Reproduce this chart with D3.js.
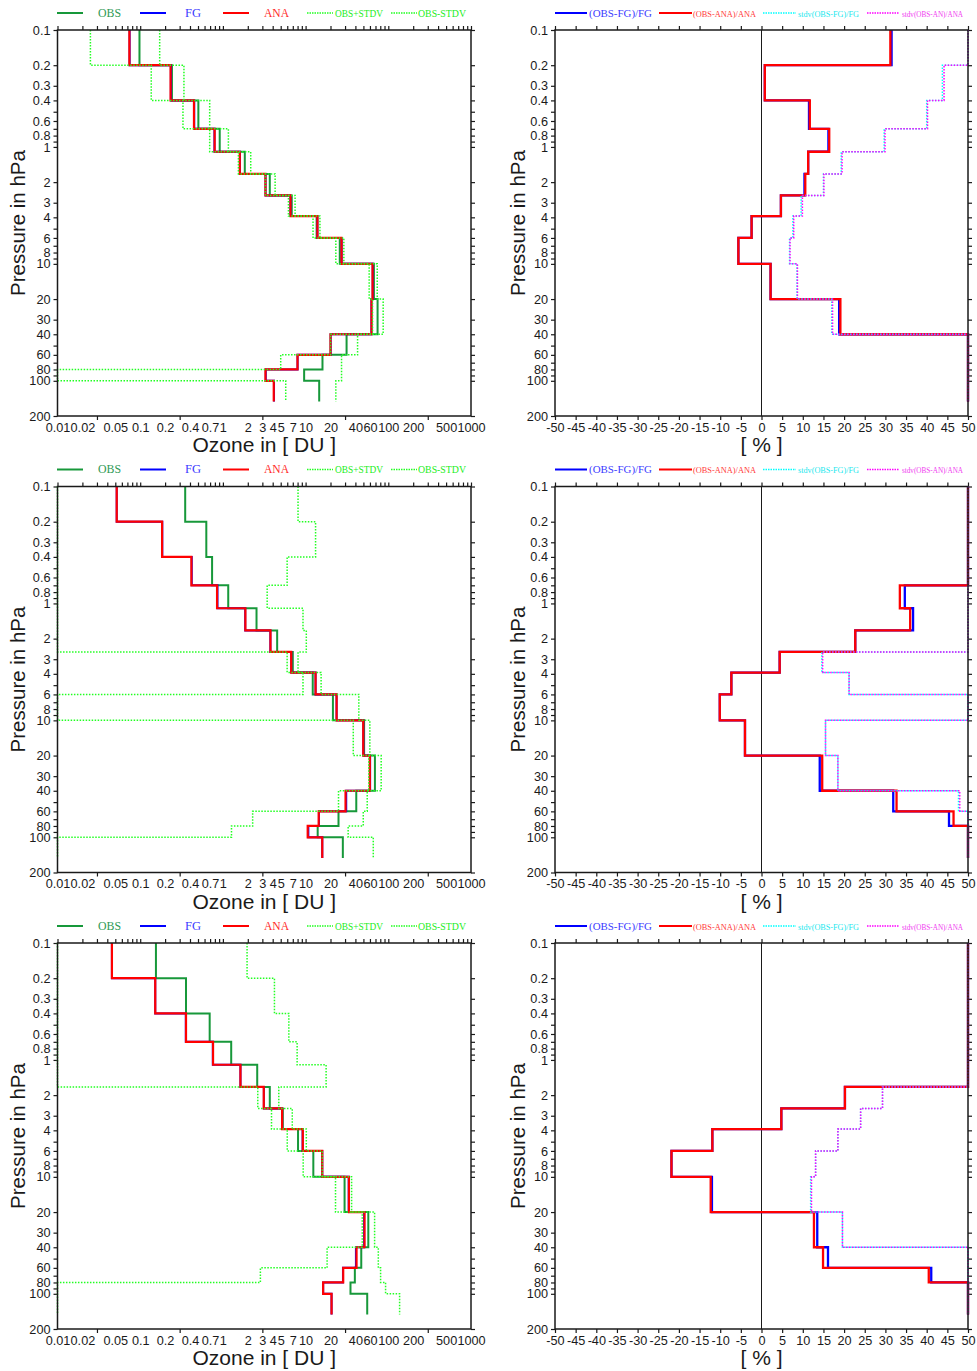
<!DOCTYPE html>
<html>
<head>
<meta charset="utf-8">
<script src="https://cdn.jsdelivr.net/npm/d3@7"></script>
<style>
body { margin: 0; background: #fff; }
svg text { font-family: "Liberation Sans", Arial, sans-serif; fill: #1a1a1a; }
svg .leg { font-family: "Liberation Serif", "Times New Roman", serif; }
</style>
</head>
<body>
<script>
// layer boundaries (hPa), shared by all profiles
const levels = [0.1, 0.2, 0.4, 0.7, 1.1, 1.7, 2.6, 3.9, 6, 10, 20, 40, 60, 80, 100, 150];

// ---- row 1 : ozone per layer [DU]
const obs1   = [0.098, 0.242, 0.505, 0.915, 1.84, 3.69, 6.8, 13.6, 25.9, 67, 74.2, 31.3, 16, 9.6, 14.6];
const fg1    = [0.0745, 0.235, 0.45, 0.79, 1.61, 3.28, 6.55, 13.9, 27.3, 64.8, 62.5, 20.1, 8.0, 3.3, 4.15];
const ana1   = [0.074, 0.233, 0.447, 0.795, 1.6, 3.27, 6.56, 13.9, 27.2, 64.5, 62.7, 20, 7.98, 3.27, 4.12];
const plus1  = [0.172, 0.338, 0.692, 1.165, 2.17, 4.28, 7.46, 14.9, 29, 73.5, 86.7, 42.5, 27.2, 27.2, 23.2];
const minus1 = [0.025, 0.136, 0.329, 0.692, 1.54, 3.27, 6.2, 12.3, 23.2, 58.7, 64.5, 20, 5.0, -8, 5.75];
// row 1 : relative departures [%]
const dfg1   = [31.5, 0.8, 11.5, 16.2, 11.3, 10.4, 4.7, -2.4, -5.6, 2.2, 18.8, 55, 99, 190, 250];
const dana1  = [31.2, 0.8, 11.7, 16.4, 11.3, 10.6, 4.7, -2.4, -5.6, 2.2, 19.1, 56, 100, 194, 254];
const sfg1   = [99, 43.8, 40, 29.7, 19.3, 15, 9.6, 7.6, 6.8, 8.6, 17.0, 56, 140, 540, 211];
const sana1  = [100, 44.2, 40.2, 29.9, 19.5, 15.1, 9.9, 7.8, 6.9, 8.7, 17.2, 56, 140, 540, 211];

// ---- row 2
const obs2   = [0.35, 0.63, 0.74, 1.16, 2.55, 4.53, 7.0, 12.2, 21.4, 51, 68.9, 41, 25, 14, 28.2];
const fg2    = [0.052, 0.185, 0.42, 0.86, 1.86, 3.75, 6.7, 13.2, 23.7, 49.9, 60.3, 31.0, 14.5, 10.8, 15.9];
const ana2   = [0.052, 0.184, 0.416, 0.85, 1.87, 3.76, 6.7, 13.2, 23.7, 49.8, 59.8, 30.4, 14.4, 10.6, 15.9];
const plus2  = [8.1, 13.2, 5.98, 3.43, 9.3, 10.2, 8.1, 15.4, 44, 59.8, 82, 55.6, 49.8, 32.7, 65.8];
const minus2 = [-7.4, -11.9, -4.5, -1.1, -4.2, -1.1, 5.98, 9.3, -1.2, 37.7, 58, 25, 2.29, 1.27, -9.4];
const dfg2   = [570, 240, 76, 34.7, 36.7, 22.7, 4.4, -7.3, -10.1, -4.0, 14.1, 31.9, 45.4, 60, 75];
const dana2  = [570, 240, 78, 33.5, 36.0, 22.7, 4.4, -7.3, -10.1, -4.0, 14.7, 32.7, 46.5, 60, 75];
const sfg2   = [1500, 700, 300, 150, 190, 140, 14.6, 21.2, 90, 15.5, 18.5, 47.7, 110, 160, 250];
const sana2  = [1500, 700, 300, 150, 190, 140, 14.8, 21.2, 90, 15.5, 18.5, 48, 110, 160, 250];

// ---- row 3
const obs3   = [0.155, 0.358, 0.692, 1.26, 2.6, 3.69, 5.3, 8.1, 12.4, 29.6, 57.3, 47.1, 39.4, 34.9, 55.6];
const fg3    = [0.0455, 0.152, 0.356, 0.755, 1.63, 3.13, 5.2, 9.2, 15.9, 33.2, 51.0, 40.6, 28.3, 16.3, 20.6];
const ana3   = [0.0455, 0.152, 0.358, 0.76, 1.63, 3.12, 5.2, 9.25, 15.9, 33.4, 51.6, 41.3, 28.5, 16.3, 20.6];
const plus3  = [1.96, 4.2, 6.27, 7.9, 17.7, 4.74, 6.9, 10.2, 15.9, 36, 68.3, 75.7, 80.7, 92.7, 137];
const minus3 = [-1.65, -3.5, -4.9, -5.4, -12.5, 2.64, 3.87, 6.0, 9.35, 23, 48.4, 18.2, 2.84, -23, -26];
const dfg3   = [240, 135, 93, 66, 60, 20.2, 4.8, -11.9, -21.8, -12.0, 13.5, 16.1, 41.1, 114, 170];
const dana3  = [240, 135, 93, 66, 60, 20.2, 4.8, -11.9, -21.8, -12.3, 12.7, 14.9, 40.5, 114, 170];
const sfg3   = [400, 300, 200, 120, 150, 29.3, 24.0, 18.5, 13.1, 11.9, 19.6, 80, 120, 300, 250];
const sana3  = [400, 300, 200, 120, 150, 29.3, 24.0, 18.5, 13.1, 12.1, 19.6, 80, 120, 300, 250];

// ---- axis ticks
const yTicks  = [0.1,0.2,0.3,0.4,0.5,0.6,0.7,0.8,0.9,1,2,3,4,5,6,7,8,9,10,20,30,40,50,60,70,80,90,100,200];
const yLabels = ['0.1','0.2','0.3','0.4','','0.6','','0.8','','1','2','3','4','','6','','8','','10','20','30','40','','60','','80','','100','200'];
const ozTickVals = [0.01,0.02,0.05,0.1,0.2,0.4,0.7,1,2,3,4,5,7,10,20,40,60,100,200,500,1000];
const ozTickText = ['0.01','0.02','0.05','0.1','0.2','0.4','0.7','1','2','3','4','5','7','10','20','40','60','100','200','500','1000'];
const ozBottomMarks = [0.03, 0.3, 3, 30, 300];
const ozTopMarks = [0.01,0.02,0.03,0.04,0.05,0.06,0.07,0.08,0.09,
                    0.1,0.2,0.3,0.4,0.5,0.6,0.7,0.8,0.9,
                    1,2,3,4,5,6,7,8,9,10,20,30,40,50,60,70,80,90,
                    100,200,300,400,500,600,700,800,900,1000];
const pctTicks = [-50,-45,-40,-35,-30,-25,-20,-15,-10,-5,0,5,10,15,20,25,30,35,40,45,50];

const leftNames  = ['OBS', 'FG', 'ANA', 'OBS+STDV', 'OBS-STDV'];
const rightNames = ['(OBS-FG)/FG', '(OBS-ANA)/ANA', 'stdv(OBS-FG)/FG', 'stdv(OBS-AN)/ANA'];

const rows = [
  {obs: obs1, fg: fg1, ana: ana1, plus: plus1, minus: minus1, dfg: dfg1, dana: dana1, sfg: sfg1, sana: sana1},
  {obs: obs2, fg: fg2, ana: ana2, plus: plus2, minus: minus2, dfg: dfg2, dana: dana2, sfg: sfg2, sana: sana2},
  {obs: obs3, fg: fg3, ana: ana3, plus: plus3, minus: minus3, dfg: dfg3, dana: dana3, sfg: sfg3, sana: sana3}
];

const cObs = '#17983a', cFg = '#0000ff', cAna = '#ff0000', cStd = '#22ff22',
      cCyan = '#00ffff', cMag = '#ff00ff';

const svg = d3.select('body').append('svg')
    .attr('width', 977)
    .attr('height', 1371);

const plotH = 386;
const leftX = [57.5, 471], rightX = [555, 968];

// turn a per-layer list into a staircase of points
function steps(vals) {
  let pts = [];
  vals.forEach((v, i) => {
    pts.push([v, levels[i]]);
    pts.push([v, levels[i + 1]]);
  });
  return pts;
}

function styleAxis(g) {
  g.select('.domain').remove();
  g.selectAll('.tick line').attr('stroke', '#1a1a1a').attr('stroke-width', 1.2);
  g.selectAll('.tick text').attr('font-size', 12.7).attr('fill', '#222')
    .attr('font-family', '"Liberation Sans", Arial, sans-serif');
}

rows.forEach((r, i) => {
  const top = 30 + i * 456.5;
  const y = d3.scaleLog().domain([0.1, 200]).range([top, top + plotH]);
  const xl = d3.scaleLog().domain([0.01, 1000]).range(leftX).clamp(true);
  const xr = d3.scaleLinear().domain([-50, 50]).range(rightX).clamp(true);
  const pos = v => Math.max(v, 1e-5);

  // ---------- left panel : profiles ----------
  let L = svg.append('g');

  L.append('g').attr('transform', `translate(${leftX[0]},0)`)
    .call(d3.axisLeft(y).tickValues(yTicks).tickFormat((d, k) => yLabels[k]).tickSize(4).tickPadding(3))
    .call(styleAxis);
  L.append('g').attr('transform', `translate(${leftX[1]},0)`)
    .call(d3.axisRight(y).tickValues(yTicks).tickFormat('').tickSize(4))
    .call(styleAxis);
  L.append('g').attr('transform', `translate(0,${top})`)
    .call(d3.axisTop(xl).tickValues(ozTopMarks).tickFormat('').tickSize(4))
    .call(styleAxis);
  L.append('g').attr('transform', `translate(0,${top + plotH})`)
    .call(d3.axisBottom(xl).tickValues(ozBottomMarks).tickFormat('').tickSize(4))
    .call(styleAxis);
  L.append('g').attr('transform', `translate(0,${top + plotH})`)
    .call(d3.axisBottom(xl).tickValues(ozTickVals).tickFormat((d, k) => ozTickText[k]).tickSize(0).tickPadding(6.5))
    .call(styleAxis);

  const lineL = d3.line().x(d => xl(pos(d[0]))).y(d => y(d[1]));
  const drawL = (vals, color, w, dash) => {
    L.append('path').attr('d', lineL(steps(vals)))
      .attr('fill', 'none').attr('stroke', color).attr('stroke-width', w)
      .attr('stroke-dasharray', dash);
  };
  drawL(r.obs, cObs, 2, null);
  drawL(r.fg, cFg, 2, null);
  drawL(r.ana, cAna, 2.2, null);
  drawL(r.plus, cStd, 1.5, '1.5,1.5');
  drawL(r.minus, cStd, 1.5, '1.5,1.5');

  L.append('rect').attr('x', leftX[0]).attr('y', top)
    .attr('width', leftX[1] - leftX[0]).attr('height', plotH)
    .attr('fill', 'none').attr('stroke', '#1a1a1a').attr('stroke-width', 1.5);

  L.append('text').attr('transform', `translate(18,${top + plotH / 2}) rotate(-90)`)
    .attr('text-anchor', 'middle').attr('dy', '0.35em').attr('font-size', 20.5)
    .text('Pressure in hPa');
  L.append('text').attr('x', (leftX[0] + leftX[1]) / 2).attr('y', top + 422)
    .attr('text-anchor', 'middle').attr('font-size', 21)
    .text('Ozone in [ DU ]');

  // legend
  const legL = [
    {c: cObs, dash: null, x0: 57, x1: 83, tx: 98, tw: 23, fs: 12},
    {c: cFg, dash: null, x0: 140, x1: 166, tx: 185, tw: 16, fs: 12},
    {c: cAna, dash: null, x0: 223, x1: 249, tx: 264, tw: 25, fs: 12},
    {c: cStd, dash: '1.5,1', x0: 307, x1: 333, tx: 335, tw: 48, fs: 9.5},
    {c: cStd, dash: '1.5,1', x0: 391, x1: 417, tx: 418, tw: 48, fs: 9.5}
  ];
  legL.forEach((o, k) => {
    L.append('line').attr('x1', o.x0).attr('x2', o.x1).attr('y1', top - 17).attr('y2', top - 17)
      .attr('stroke', o.c).attr('stroke-width', o.dash ? 1.5 : 2).attr('stroke-dasharray', o.dash);
    L.append('text').attr('class', 'leg').attr('x', o.tx).attr('y', top - 13.5)
      .attr('font-size', o.fs).attr('textLength', o.tw).attr('lengthAdjust', 'spacingAndGlyphs')
      .style('fill', k === 0 ? '#2f9a55' : (k === 1 ? '#3b3bff' : (k === 2 ? '#ff2a2a' : '#22ee22')))
      .text(leftNames[k]);
  });

  // ---------- right panel : departures ----------
  let R = svg.append('g');

  R.append('g').attr('transform', `translate(${rightX[0]},0)`)
    .call(d3.axisLeft(y).tickValues(yTicks).tickFormat((d, k) => yLabels[k]).tickSize(4).tickPadding(3))
    .call(styleAxis);
  R.append('g').attr('transform', `translate(${rightX[1]},0)`)
    .call(d3.axisRight(y).tickValues(yTicks).tickFormat('').tickSize(4))
    .call(styleAxis);
  R.append('g').attr('transform', `translate(0,${top})`)
    .call(d3.axisTop(xr).tickValues(pctTicks).tickFormat('').tickSize(4))
    .call(styleAxis);
  R.append('g').attr('transform', `translate(0,${top + plotH})`)
    .call(d3.axisBottom(xr).tickValues(pctTicks).tickFormat(d => d).tickSize(4).tickPadding(2.5))
    .call(styleAxis);

  R.append('line').attr('x1', xr(0)).attr('x2', xr(0)).attr('y1', top).attr('y2', top + plotH)
    .attr('stroke', '#1a1a1a').attr('stroke-width', 1);

  const lineR = d3.line().x(d => xr(d[0])).y(d => y(d[1]));
  const drawR = (vals, color, w, dash) => {
    R.append('path').attr('d', lineR(steps(vals)))
      .attr('fill', 'none').attr('stroke', color).attr('stroke-width', w)
      .attr('stroke-dasharray', dash);
  };
  drawR(r.dfg, cFg, 2.3, null);
  drawR(r.dana, cAna, 2.3, null);
  drawR(r.sfg, cCyan, 1.5, '1.5,1.5');
  drawR(r.sana, cMag, 1.5, '1.5,1.5');

  R.append('rect').attr('x', rightX[0]).attr('y', top)
    .attr('width', rightX[1] - rightX[0]).attr('height', plotH)
    .attr('fill', 'none').attr('stroke', '#1a1a1a').attr('stroke-width', 1.5);

  R.append('text').attr('transform', `translate(517.5,${top + plotH / 2}) rotate(-90)`)
    .attr('text-anchor', 'middle').attr('dy', '0.35em').attr('font-size', 20.5)
    .text('Pressure in hPa');
  R.append('text').attr('x', (rightX[0] + rightX[1]) / 2).attr('y', top + 422)
    .attr('text-anchor', 'middle').attr('font-size', 21)
    .text('[ % ]');

  const legR = [
    {c: cFg, dash: null, x0: 555, x1: 587, tx: 589, tw: 63, fs: 11, tc: '#3b3bff'},
    {c: cAna, dash: null, x0: 659, x1: 692, tx: 693, tw: 63, fs: 8.5, tc: '#ff3a3a'},
    {c: cCyan, dash: '1.5,1', x0: 763, x1: 796, tx: 798, tw: 61, fs: 8.2, tc: '#22e8ee'},
    {c: cMag, dash: '1.5,1', x0: 867, x1: 899, tx: 902, tw: 61, fs: 7.4, tc: '#f03cf0'}
  ];
  legR.forEach((o, k) => {
    R.append('line').attr('x1', o.x0).attr('x2', o.x1).attr('y1', top - 17).attr('y2', top - 17)
      .attr('stroke', o.c).attr('stroke-width', o.dash ? 1.5 : 2).attr('stroke-dasharray', o.dash);
    R.append('text').attr('class', 'leg').attr('x', o.tx).attr('y', top - 13.5)
      .attr('font-size', o.fs).attr('textLength', o.tw).attr('lengthAdjust', 'spacingAndGlyphs')
      .style('fill', o.tc)
      .text(rightNames[k]);
  });
});
</script>
</body>
</html>
